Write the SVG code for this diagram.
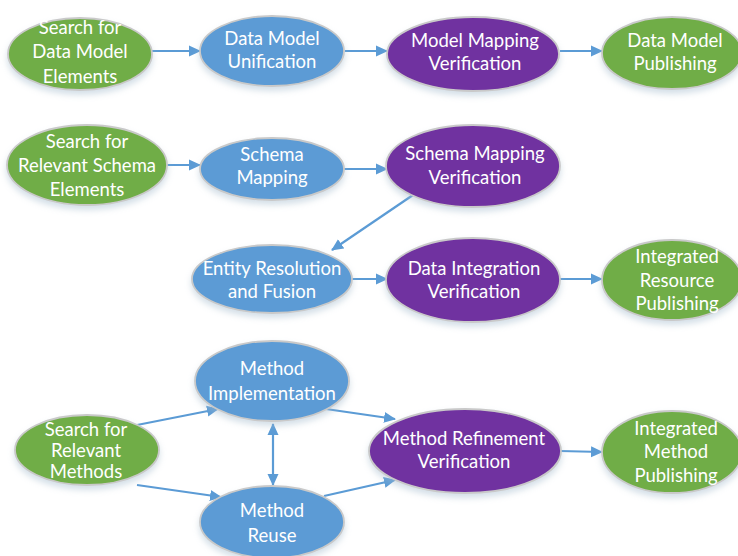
<svg xmlns="http://www.w3.org/2000/svg" width="738" height="556" viewBox="0 0 738 556">
<defs>
<style>
.n{stroke:#C9C9C9;stroke-width:1.8;filter:url(#sh)}
.g{fill:#70AD47}.b{fill:#5B9BD5}.p{fill:#7030A0}
.t{font-family:Lato,"Liberation Sans",sans-serif;font-size:18.5px;fill:#fff;text-anchor:middle}
.c{stroke:#5B9BD5;stroke-width:2.2;fill:none;marker-end:url(#ah)}
</style>
<marker id="ah" markerWidth="12" markerHeight="12" refX="11" refY="6" orient="auto" markerUnits="userSpaceOnUse" viewBox="0 0 12 12">
<path d="M0,0.5 L12,6 L0,11.5 z" fill="#5B9BD5"/>
</marker>
<marker id="as" markerWidth="12" markerHeight="12" refX="1" refY="6" orient="auto" markerUnits="userSpaceOnUse" viewBox="0 0 12 12">
<path d="M12,0.5 L0,6 L12,11.5 z" fill="#5B9BD5"/>
</marker>
<filter id="sh" x="-20%" y="-20%" width="140%" height="150%">
<feDropShadow dx="0" dy="4" stdDeviation="3" flood-color="#9FB7CC" flood-opacity="0.45"/>
</filter>
</defs>
<g id="connectors">
<line class="c" x1="152" y1="51" x2="200" y2="51"/>
<line class="c" x1="345" y1="51" x2="387" y2="51"/>
<line class="c" x1="560" y1="51" x2="602" y2="51"/>
<line class="c" x1="167" y1="165" x2="200" y2="165"/>
<line class="c" x1="344" y1="169" x2="387" y2="169"/>
<line class="c" x1="413" y1="195" x2="332" y2="250"/>
<line class="c" x1="352" y1="279" x2="387" y2="279"/>
<line class="c" x1="560" y1="279" x2="602" y2="279"/>
<line class="c" x1="137" y1="425" x2="218" y2="409"/>
<line class="c" x1="137" y1="485" x2="221" y2="497"/>
<line class="c" x1="273" y1="424" x2="273" y2="485" marker-start="url(#as)"/>
<line class="c" x1="326" y1="409" x2="395" y2="419"/>
<line class="c" x1="324" y1="496" x2="395" y2="480"/>
<line class="c" x1="560" y1="451" x2="602" y2="452"/>
</g>
<g id="n1"><ellipse class="n g" cx="80" cy="54" rx="72" ry="36"/>
<text class="t" x="80" y="34">Search for</text><text class="t" x="80" y="58">Data Model</text><text class="t" x="80" y="83">Elements</text></g>
<g id="n2"><ellipse class="n b" cx="272" cy="51" rx="72" ry="35"/>
<text class="t" x="272" y="45">Data Model</text><text class="t" x="272" y="68">Unification</text></g>
<g id="n3"><ellipse class="n p" cx="473" cy="54" rx="86" ry="37"/>
<text class="t" x="475" y="47">Model Mapping</text><text class="t" x="475" y="70">Verification</text></g>
<g id="n4"><ellipse class="n g" cx="672" cy="53" rx="70" ry="36"/>
<text class="t" x="675" y="47">Data Model</text><text class="t" x="675" y="70">Publishing</text></g>
<g id="n5"><ellipse class="n g" cx="87" cy="165" rx="80" ry="40"/>
<text class="t" x="87" y="148">Search for</text><text class="t" x="87" y="172">Relevant Schema</text><text class="t" x="87" y="196">Elements</text></g>
<g id="n6"><ellipse class="n b" cx="272" cy="169" rx="72" ry="31"/>
<text class="t" x="272" y="161">Schema</text><text class="t" x="272" y="184">Mapping</text></g>
<g id="n7"><ellipse class="n p" cx="473" cy="166" rx="87" ry="41"/>
<text class="t" x="475" y="160">Schema Mapping</text><text class="t" x="475" y="184">Verification</text></g>
<g id="n8"><ellipse class="n b" cx="272" cy="279" rx="80" ry="34"/>
<text class="t" x="272" y="275">Entity Resolution</text><text class="t" x="272" y="298">and Fusion</text></g>
<g id="n9"><ellipse class="n p" cx="473" cy="280" rx="87" ry="42"/>
<text class="t" x="474" y="275">Data Integration</text><text class="t" x="474" y="298">Verification</text></g>
<g id="n10"><ellipse class="n g" cx="672" cy="280" rx="70" ry="40"/>
<text class="t" x="677" y="263">Integrated</text><text class="t" x="677" y="287">Resource</text><text class="t" x="677" y="310">Publishing</text></g>
<g id="n11"><ellipse class="n b" cx="272" cy="381" rx="77" ry="40"/>
<text class="t" x="272" y="375">Method</text><text class="t" x="272" y="400">Implementation</text></g>
<g id="n12"><ellipse class="n g" cx="87" cy="450" rx="72" ry="35"/>
<text class="t" x="86" y="436">Search for</text><text class="t" x="86" y="457">Relevant</text><text class="t" x="86" y="478">Methods</text></g>
<g id="n13"><ellipse class="n b" cx="272" cy="522" rx="72" ry="36"/>
<text class="t" x="272" y="517">Method</text><text class="t" x="272" y="542">Reuse</text></g>
<g id="n14"><ellipse class="n p" cx="465" cy="451" rx="96" ry="42"/>
<text class="t" x="464" y="445">Method Refinement</text><text class="t" x="464" y="468">Verification</text></g>
<g id="n15"><ellipse class="n g" cx="672" cy="452" rx="70" ry="41"/>
<text class="t" x="676" y="435">Integrated</text><text class="t" x="676" y="458">Method</text><text class="t" x="676" y="482">Publishing</text></g>
</svg>
